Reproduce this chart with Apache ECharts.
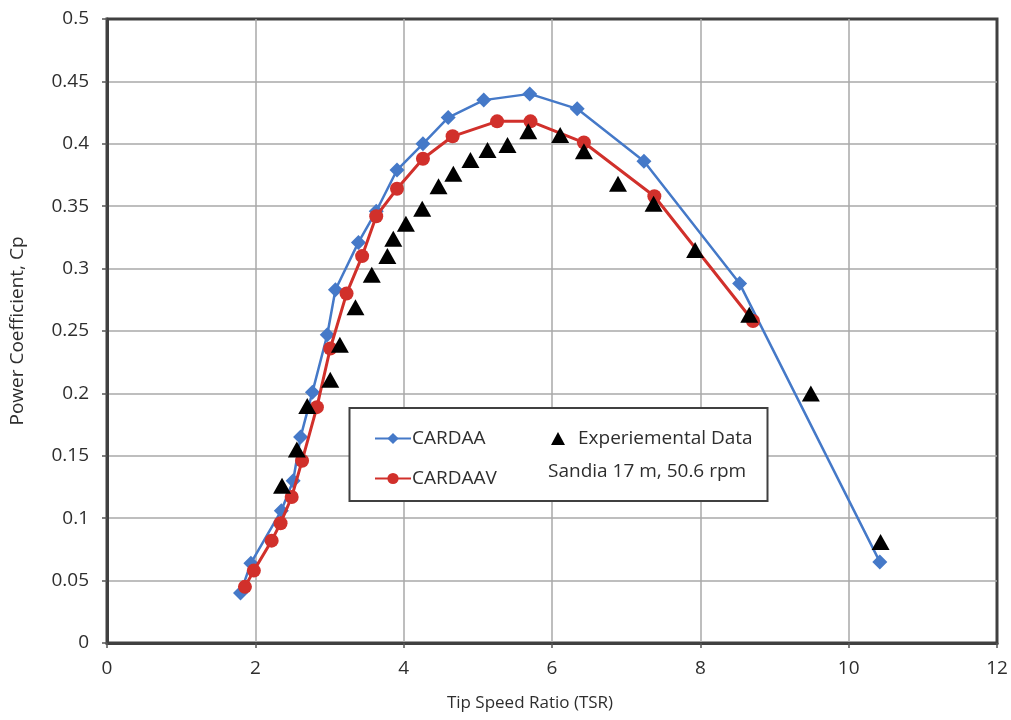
<!DOCTYPE html>
<html>
<head>
<meta charset="utf-8">
<script src="https://cdn.jsdelivr.net/npm/echarts@6/dist/echarts.min.js"></script>
<style>
  html, body { margin: 0; padding: 0; background: #fff; }
  #chart { width: 1011px; height: 720px; }
</style>
</head>
<body>
<div id="chart"></div>
<script>
// CARDAA model prediction
var tsrCardaa = [1.80, 1.94, 2.35, 2.51, 2.61, 2.77, 2.97, 3.08, 3.39, 3.63, 3.91, 4.26, 4.60, 5.08, 5.70, 6.34, 7.24, 8.53, 10.42];
var cpCardaa  = [0.040, 0.064, 0.106, 0.130, 0.165, 0.201, 0.247, 0.283, 0.321, 0.346, 0.379, 0.400, 0.421, 0.435, 0.440, 0.428, 0.386, 0.288, 0.065];

// CARDAAV model prediction
var tsrCardaav = [1.86, 1.98, 2.22, 2.34, 2.49, 2.63, 2.83, 3.01, 3.23, 3.44, 3.63, 3.91, 4.26, 4.66, 5.26, 5.71, 6.43, 7.38, 8.71];
var cpCardaav  = [0.045, 0.058, 0.082, 0.096, 0.117, 0.146, 0.189, 0.236, 0.280, 0.310, 0.342, 0.364, 0.388, 0.406, 0.418, 0.418, 0.401, 0.358, 0.258];

// Sandia 17 m turbine measurements at 50.6 rpm
var tsrExp = [2.36, 2.56, 2.70, 3.01, 3.14, 3.35, 3.57, 3.78, 3.86, 4.03, 4.25, 4.47, 4.67, 4.90, 5.13, 5.40, 5.68, 6.11, 6.43, 6.89, 7.37, 7.93, 8.66, 9.49, 10.43];
var cpExp  = [0.126, 0.155, 0.190, 0.211, 0.239, 0.269, 0.295, 0.310, 0.324, 0.336, 0.348, 0.366, 0.376, 0.387, 0.395, 0.399, 0.410, 0.407, 0.394, 0.368, 0.352, 0.315, 0.263, 0.200, 0.081];

// Axis ticks
var xTicks = [0, 2, 4, 6, 8, 10, 12];
var yTicks = [0, 0.05, 0.1, 0.15, 0.2, 0.25, 0.3, 0.35, 0.4, 0.45, 0.5];

function pairs(xs, ys) {
  return xs.map(function (x, i) { return [x, ys[i]]; });
}

var FONT = '"Open Sans", "DejaVu Sans", sans-serif';
var TEXT = '#2e2e2e';
var BLUE = '#4579c8';
var RED = '#d1302b';

var chart = echarts.init(document.getElementById('chart'), null, { renderer: 'canvas' });

chart.setOption({
  animation: false,
  backgroundColor: '#ffffff',
  textStyle: { fontFamily: FONT },
  grid: {
    left: 107, right: 14, top: 19, bottom: 77,
    show: true,
    borderColor: '#404040',
    borderWidth: 3,
    backgroundColor: 'transparent'
  },
  xAxis: {
    type: 'value',
    min: xTicks[0],
    max: xTicks[xTicks.length - 1],
    interval: xTicks[1] - xTicks[0],
    name: 'Tip Speed Ratio (TSR)',
    nameLocation: 'middle',
    nameGap: 52,
    nameTextStyle: { fontFamily: FONT, fontSize: 17, color: TEXT, padding: [0, 44, 0, 0] },
    axisLine: { show: true, lineStyle: { color: '#404040', width: 3 } },
    axisTick: { show: true, inside: false, length: 5, lineStyle: { color: '#555', width: 1.5 } },
    axisLabel: { fontFamily: FONT, fontSize: 19, color: TEXT, margin: 16 },
    splitLine: { show: true, showMinLine: false, showMaxLine: false, lineStyle: { color: '#a8a8a8', width: 1.5 } }
  },
  yAxis: {
    type: 'value',
    min: yTicks[0],
    max: yTicks[yTicks.length - 1],
    interval: yTicks[1] - yTicks[0],
    name: 'Power Coefficient, Cp',
    nameLocation: 'middle',
    nameGap: 80,
    nameTextStyle: { fontFamily: FONT, fontSize: 19, color: TEXT },
    axisLine: { show: true, lineStyle: { color: '#404040', width: 3 } },
    axisTick: { show: true, inside: false, length: 5, lineStyle: { color: '#555', width: 1.5 } },
    axisLabel: { fontFamily: FONT, fontSize: 19, color: TEXT, margin: 18 },
    splitLine: { show: true, showMinLine: false, showMaxLine: false, lineStyle: { color: '#a8a8a8', width: 1.5 } }
  },
  legend: [
    {
      data: ['CARDAA', 'CARDAAV'],
      orient: 'vertical',
      left: 369,
      top: 424,
      itemWidth: 36,
      itemHeight: 14,
      itemGap: 21,
      textStyle: { fontFamily: FONT, fontSize: 19, color: TEXT, padding: [0, 0, 0, -4] },
      z: 6
    },
    {
      data: [{ name: 'Experiemental Data', icon: 'triangle' }],
      left: 546,
      top: 424,
      itemWidth: 14,
      itemHeight: 13,
      textStyle: { fontFamily: FONT, fontSize: 19, color: TEXT, padding: [0, 0, 0, 8] },
      z: 6
    }
  ],
  graphic: [
    {
      type: 'rect',
      z: 5,
      shape: { x: 349.5, y: 408, width: 418, height: 93 },
      style: { fill: '#ffffff', stroke: '#404040', lineWidth: 2 }
    },
    {
      type: 'text',
      z: 6,
      left: 548,
      top: 462,
      style: { text: 'Sandia 17 m, 50.6 rpm', font: '19px ' + FONT, fill: TEXT }
    }
  ],
  series: [
    {
      name: 'CARDAA',
      type: 'line',
      data: pairs(tsrCardaa, cpCardaa),
      symbol: 'diamond',
      symbolSize: 15,
      showAllSymbol: true,
      itemStyle: { color: BLUE },
      lineStyle: { color: BLUE, width: 2.5 },
      z: 2
    },
    {
      name: 'CARDAAV',
      type: 'line',
      data: pairs(tsrCardaav, cpCardaav),
      symbol: 'circle',
      symbolSize: 14,
      showAllSymbol: true,
      itemStyle: { color: RED },
      lineStyle: { color: RED, width: 3 },
      z: 3
    },
    {
      name: 'Experiemental Data',
      type: 'scatter',
      data: pairs(tsrExp, cpExp),
      symbol: 'triangle',
      symbolSize: [18, 16],
      itemStyle: { color: '#000000', opacity: 1 },
      z: 4
    }
  ]
});
</script>
</body>
</html>
